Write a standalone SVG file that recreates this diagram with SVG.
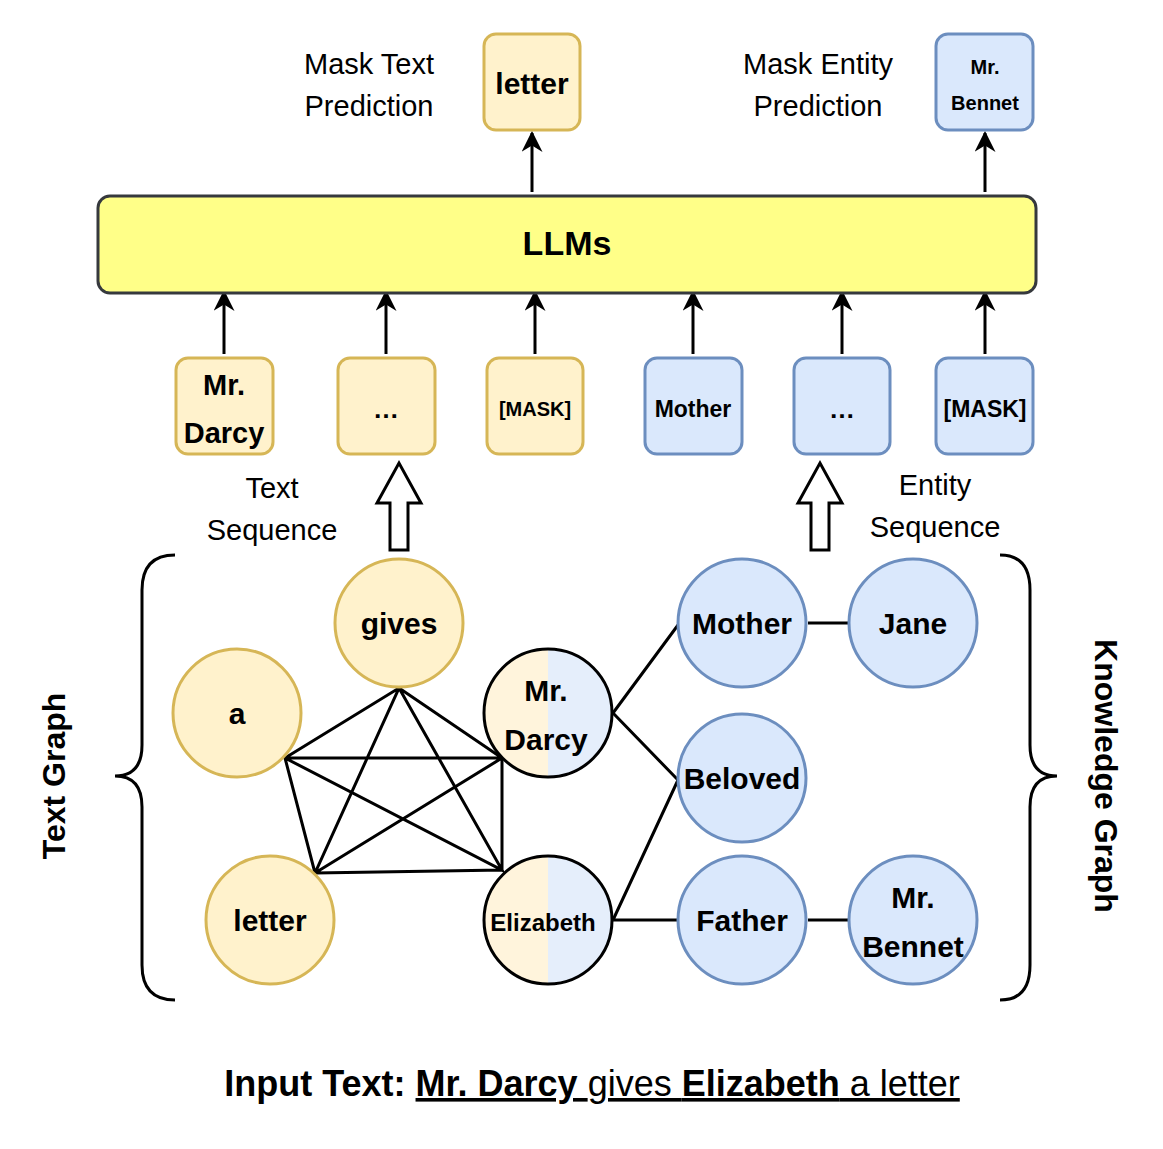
<svg xmlns="http://www.w3.org/2000/svg" width="1163" height="1149" viewBox="0 0 1163 1149">
<defs>
<marker id="ah" viewBox="0 0 10 10" refX="9" refY="5" markerWidth="7" markerHeight="7" orient="auto"><path d="M0,0 L10,5 L0,10 L3,5 z" fill="#000"/></marker>
<linearGradient id="split" x1="0" x2="1" y1="0" y2="0"><stop offset="0.5" stop-color="#fff4dc"/><stop offset="0.5" stop-color="#e5eefb"/></linearGradient>
</defs>
<style>
text{font-family:"Liberation Sans",Arial,sans-serif;fill:#000;text-anchor:middle}
.b{font-weight:bold}
.y{fill:#fff2cc;stroke:#d6b656;stroke-width:3}
.bl{fill:#dae8fc;stroke:#6c8ebf;stroke-width:3}
.ln{stroke:#000;stroke-width:3;fill:none}
.ar{stroke:#000;stroke-width:3;fill:none;marker-end:url(#ah)}
</style>
<rect width="1163" height="1149" fill="#fff"/>
<g id="connectors">
<path class="ar" d="M532,192 V133"/>
<path class="ar" d="M985,192 V133"/>
<path class="ar" d="M224,354 V292"/>
<path class="ar" d="M386,354 V292"/>
<path class="ar" d="M535,354 V292"/>
<path class="ar" d="M693,354 V292"/>
<path class="ar" d="M842,354 V292"/>
<path class="ar" d="M985,354 V292"/>
<path d="M390,550 V503 H377 L399,463 L421,503 H408 V550 Z" fill="#fff" stroke="#000" stroke-width="3"/>
<path d="M811,550 V503 H798 L820,463 L842,503 H829 V550 Z" fill="#fff" stroke="#000" stroke-width="3"/>
<path class="ln" d="M285,758 L399,688 L315,873 L285,758 L502,758 L399,688 L502,870 L285,758 M315,873 L502,758 L502,870 L315,873"/>
<path class="ln" d="M613,713 L678,625 M613,713 L678,780 M613,920 L678,780 M613,920 H678 M808,623 H848 M808,920 H848"/>
<path class="ln" d="M175,555 Q142,555 142,590 V745 Q142,776 115,776 Q142,776 142,807 V965 Q142,1000 175,1000"/>
<path class="ln" d="M1000,555 Q1030,555 1030,590 V745 Q1030,776 1057,776 Q1030,776 1030,807 V965 Q1030,1000 1000,1000"/>
</g>
<g id="llm"><rect x="98" y="196" width="938" height="97" rx="12" fill="#ffff88" stroke="#36393d" stroke-width="3"/><text x="567" y="255" class="b" font-size="34">LLMs</text></g>
<g id="out-letter"><rect x="484" y="34" width="96" height="96" rx="12" class="y"/><text x="532" y="94" class="b" font-size="30">letter</text></g>
<g id="out-bennet"><rect x="936" y="34" width="97" height="96" rx="12" class="bl"/><text x="985" y="74" class="b" font-size="20">Mr.</text><text x="985" y="110" class="b" font-size="20">Bennet</text></g>
<g id="labels">
<text x="369" y="74" font-size="29">Mask Text</text><text x="369" y="116" font-size="29">Prediction</text>
<text x="818" y="74" font-size="29">Mask Entity</text><text x="818" y="116" font-size="29">Prediction</text>
<text x="272" y="498" font-size="29">Text</text><text x="272" y="540" font-size="29">Sequence</text>
<text x="935" y="495" font-size="29">Entity</text><text x="935" y="537" font-size="29">Sequence</text>
<text transform="translate(65,776) rotate(-90)" class="b" font-size="32">Text Graph</text>
<text transform="translate(1095,776) rotate(90)" class="b" font-size="32">Knowledge Graph</text>
<text x="592" y="1096" font-size="36"><tspan class="b">Input Text: </tspan><tspan class="b" text-decoration="underline">Mr. Darcy </tspan><tspan text-decoration="underline">gives </tspan><tspan class="b" text-decoration="underline">Elizabeth</tspan><tspan text-decoration="underline"> a letter</tspan></text>
</g>
<g id="s1"><rect x="176" y="358" width="97" height="96" rx="12" class="y"/><text x="224" y="395" class="b" font-size="29">Mr.</text><text x="224" y="443" class="b" font-size="29">Darcy</text></g>
<g id="s2"><rect x="338" y="358" width="97" height="96" rx="12" class="y"/><text x="386" y="418" class="b" font-size="26">…</text></g>
<g id="s3"><rect x="487" y="358" width="96" height="96" rx="12" class="y"/><text x="535" y="416" class="b" font-size="20">[MASK]</text></g>
<g id="s4"><rect x="645" y="358" width="97" height="96" rx="12" class="bl"/><text x="693" y="417" class="b" font-size="23">Mother</text></g>
<g id="s5"><rect x="794" y="358" width="96" height="96" rx="12" class="bl"/><text x="842" y="418" class="b" font-size="26">…</text></g>
<g id="s6"><rect x="936" y="358" width="97" height="96" rx="12" class="bl"/><text x="985" y="417" class="b" font-size="23">[MASK]</text></g>
<g id="n-gives"><circle cx="399" cy="623" r="64" class="y"/><text x="399" y="634" class="b" font-size="30">gives</text></g>
<g id="n-a"><circle cx="237" cy="713" r="64" class="y"/><text x="237" y="724" class="b" font-size="30">a</text></g>
<g id="n-letter"><circle cx="270" cy="920" r="64" class="y"/><text x="270" y="931" class="b" font-size="30">letter</text></g>
<g id="n-darcy"><circle cx="548" cy="713" r="64" fill="url(#split)" stroke="#000" stroke-width="3"/><text x="546" y="701" class="b" font-size="30">Mr.</text><text x="546" y="750" class="b" font-size="30">Darcy</text></g>
<g id="n-eliz"><circle cx="548" cy="920" r="64" fill="url(#split)" stroke="#000" stroke-width="3"/><text x="543" y="931" class="b" font-size="24">Elizabeth</text></g>
<g id="n-mother"><circle cx="742" cy="623" r="64" class="bl"/><text x="742" y="634" class="b" font-size="30">Mother</text></g>
<g id="n-jane"><circle cx="913" cy="623" r="64" class="bl"/><text x="913" y="634" class="b" font-size="30">Jane</text></g>
<g id="n-beloved"><circle cx="742" cy="778" r="64" class="bl"/><text x="742" y="789" class="b" font-size="30">Beloved</text></g>
<g id="n-father"><circle cx="742" cy="920" r="64" class="bl"/><text x="742" y="931" class="b" font-size="30">Father</text></g>
<g id="n-bennet"><circle cx="913" cy="920" r="64" class="bl"/><text x="913" y="908" class="b" font-size="30">Mr.</text><text x="913" y="957" class="b" font-size="30">Bennet</text></g>
</svg>
